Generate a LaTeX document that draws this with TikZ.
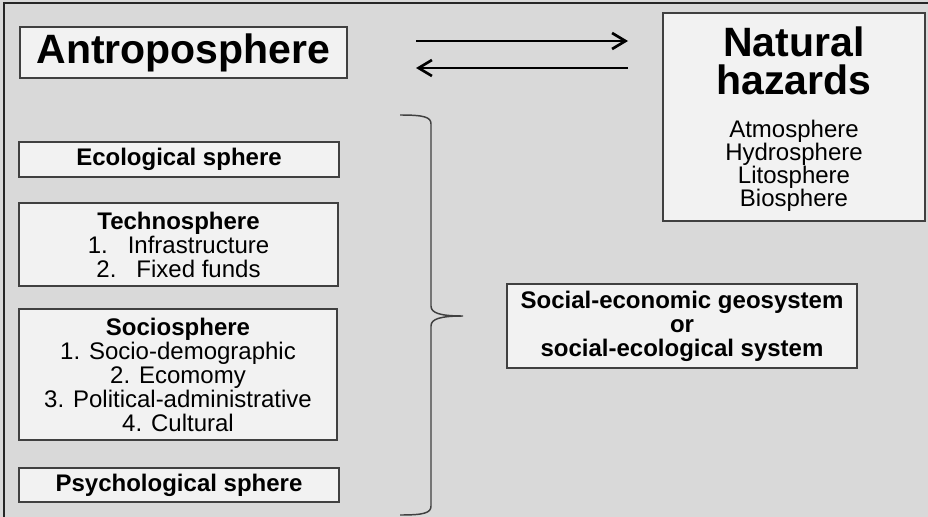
\documentclass[tikz,border=0pt]{standalone}
\usepackage{fontspec}
\setmainfont{Liberation Sans}
\usetikzlibrary{arrows.meta}
\definecolor{bg}{HTML}{D9D9D9}
\definecolor{boxfill}{HTML}{F2F2F2}
\definecolor{edge}{HTML}{404040}
\begin{document}
\begin{tikzpicture}[x=0.75pt,y=-0.75pt,
  box/.style={draw=edge,fill=boxfill,line width=1pt,inner sep=0pt,outer sep=0pt,align=center,font=\fontsize{18}{18}\selectfont},
  bigtitle/.style={font=\fontsize{30.75}{28.5}\selectfont\bfseries},
  arr/.style={-{Straight Barb[length=10pt,width=12pt]},line width=2pt},
  bracestyle/.style={draw=edge,line width=1.1pt}]
\fill[bg] (0,0) rectangle (928,517);
\useasboundingbox (0,0) rectangle (928,517);
\draw[line width=1.5pt,black!85] (4,517) -- (4,3) -- (928,3);

\node[box,minimum width=245.25pt,minimum height=38.25pt,bigtitle] (anth) at (183.5,52.5) {Antroposphere};

\node[box,minimum width=196.5pt,minimum height=156pt] (nh) at (794,117) {};
\node[bigtitle,align=center,inner sep=0pt] (nht) at (794,61) {Natural\\hazards};
\node[align=center,inner sep=0pt,font=\fontsize{18}{17.25}\selectfont] (nhl) at (794,165.5) {Atmosphere\\Hydrosphere\\Litosphere\\Biosphere};

\coordinate (a1s) at (416,41);
\coordinate (a1e) at (628,41);
\coordinate (a2s) at (628,68);
\coordinate (a2e) at (416,68);
\draw[arr] (a1s) -- (a1e);
\draw[arr] (a2s) -- (a2e);

\node[box,minimum width=240pt,minimum height=26.25pt] (eco) at (179,159.5) {\bfseries Ecological sphere};
\node[box,minimum width=239.25pt,minimum height=62.25pt] (tech) at (178.5,244.5) {\bfseries Technosphere\\1.\hspace{15pt}Infrastructure\\2.\hspace{15pt}Fixed funds};
\node[box,minimum width=238.5pt,minimum height=98.25pt] (socio) at (178,374.5) {\bfseries Sociosphere\\1. Socio-demographic\\2. Ecomomy\\3. Political-administrative\\4. Cultural};
\node[box,minimum width=240pt,minimum height=25.5pt] (psy) at (179,485) {\bfseries Psychological sphere};

\draw[bracestyle] (400,115) .. controls (424,115) and (431,117) .. (431,124) -- (431,306) .. controls (431,313) and (440,316) .. (463,316) .. controls (440,316) and (431,319) .. (431,326) -- (431,506) .. controls (431,513) and (424,515) .. (400,515);

\node[box,minimum width=262.5pt,minimum height=63pt,font=\fontsize{18}{18}\selectfont\bfseries] (seg) at (682,326) {Social-economic geosystem\\or\\social-ecological system};
\end{tikzpicture}
\end{document}
